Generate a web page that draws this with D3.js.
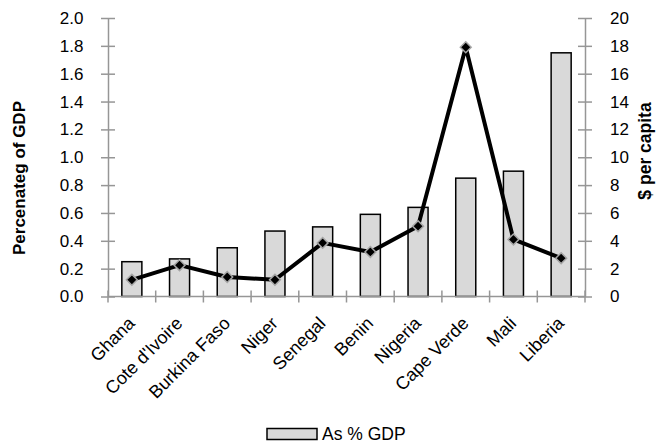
<!DOCTYPE html>
<html>
<head>
<meta charset="utf-8">
<script src="https://cdn.jsdelivr.net/npm/d3@7"></script>
<style>
  body { margin: 0; background: #fff; }
  svg text { font-family: "Liberation Sans", Arial, sans-serif; fill: #000; }
</style>
</head>
<body>
<div id="container"><svg></svg></div>
<script>
let width = 661;
let height = 445;

// data
let countries = ['Ghana', "Cote d'Ivoire", 'Burkina Faso', 'Niger', 'Senegal', 'Benin', 'Nigeria', 'Cape Verde', 'Mali', 'Liberia'];
let pctGDP = [0.25, 0.27, 0.35, 0.47, 0.50, 0.59, 0.64, 0.85, 0.90, 1.75];
let perCapita = [1.2, 2.25, 1.4, 1.2, 3.85, 3.2, 5.05, 17.9, 4.1, 2.75];
let leftTicks = [0, 0.2, 0.4, 0.6, 0.8, 1.0, 1.2, 1.4, 1.6, 1.8, 2.0];
let rightTicks = [0, 2, 4, 6, 8, 10, 12, 14, 16, 18, 20];

let margin = {left: 108, right: 76, top: 18, bottom: 148.5};

let svg = d3.select('#container').select('svg')
    .attr('width', width)
    .attr('height', height);

let x = d3.scaleBand()
    .domain(countries)
    .range([margin.left, width - margin.right])
    .padding(0);
let yL = d3.scaleLinear().domain([0, 2]).range([height - margin.bottom, margin.top]);
let yR = d3.scaleLinear().domain([0, 20]).range([height - margin.bottom, margin.top]);

let axisColor = '#969696';
let barW = x.bandwidth() * 0.42;

// bars
svg.append('g')
    .selectAll('rect')
    .data(countries)
    .join('rect')
    .attr('x', d => x(d) + x.bandwidth() / 2 - barW / 2)
    .attr('y', (d, i) => yL(pctGDP[i]))
    .attr('width', barW)
    .attr('height', (d, i) => yL(0) - yL(pctGDP[i]))
    .attr('fill', '#d9d9d9')
    .attr('stroke', '#000')
    .attr('stroke-width', 1.5);

// axes
function styleAxis(g) {
    g.select('.domain').attr('stroke', axisColor).attr('stroke-width', 1.5);
    g.selectAll('.tick line').attr('stroke', axisColor).attr('stroke-width', 1.5);
    g.selectAll('.tick text').style('font-size', '17px');
}

let gL = svg.append('g')
    .attr('transform', `translate(${margin.left},0)`)
    .call(d3.axisLeft(yL).tickValues(leftTicks).tickFormat(d3.format('.1f')).tickSize(7).tickSizeOuter(0));
styleAxis(gL);
gL.selectAll('.tick line').attr('x2', -7).attr('x1', 7);
gL.selectAll('.tick text').attr('x', -24.5);

let gR = svg.append('g')
    .attr('transform', `translate(${width - margin.right},0)`)
    .call(d3.axisRight(yR).tickValues(rightTicks).tickSize(7).tickSizeOuter(0));
styleAxis(gR);
gR.selectAll('.tick line').attr('x1', -7).attr('x2', 7);
gR.selectAll('.tick text').attr('x', 25);

// x axis: ticks between categories
let boundaries = countries.map(d => x(d)).concat([x(countries[countries.length - 1]) + x.bandwidth()]);
let gX = svg.append('g');
gX.append('line')
    .attr('x1', margin.left).attr('x2', width - margin.right)
    .attr('y1', yL(0)).attr('y2', yL(0))
    .attr('stroke', axisColor).attr('stroke-width', 1.5);
gX.selectAll('line.tk')
    .data(boundaries)
    .join('line')
    .attr('class', 'tk')
    .attr('x1', d => d).attr('x2', d => d)
    .attr('y1', yL(0) - 6).attr('y2', yL(0) + 6)
    .attr('stroke', axisColor).attr('stroke-width', 1.5);
gX.selectAll('text')
    .data(countries)
    .join('text')
    .attr('transform', d => `translate(${x(d) + x.bandwidth() / 2 + 4},${yL(0) + 28}) rotate(-45)`)
    .attr('text-anchor', 'end')
    .style('font-size', '18px')
    .text(d => d);

// line series
let line = d3.line()
    .x(d => x(d) + x.bandwidth() / 2)
    .y((d, i) => yR(perCapita[i]));
svg.append('path')
    .datum(countries)
    .attr('d', line)
    .attr('fill', 'none')
    .attr('stroke', '#000')
    .attr('stroke-width', 4)
    .attr('stroke-linejoin', 'round');

svg.append('g')
    .selectAll('path')
    .data(countries)
    .join('path')
    .attr('d', d3.symbol(d3.symbolDiamond2, 75))
    .attr('transform', (d, i) => `translate(${x(d) + x.bandwidth() / 2},${yR(perCapita[i])})`)
    .attr('fill', '#000')
    .attr('stroke', '#a6a6a6')
    .attr('stroke-width', 1.5);

// axis titles
svg.append('text')
    .attr('transform', 'translate(25,178) rotate(-90)')
    .attr('text-anchor', 'middle')
    .style('font-size', '17px')
    .style('font-weight', 'bold')
    .text('Percenateg of GDP');
svg.append('text')
    .attr('transform', 'translate(651,151) rotate(-90)')
    .attr('text-anchor', 'middle')
    .style('font-size', '17.5px')
    .style('font-weight', 'bold')
    .text('$ per capita');

// legend
let lg = svg.append('g').attr('transform', 'translate(267,428.5)');
lg.append('rect')
    .attr('width', 50).attr('height', 11)
    .attr('fill', '#d9d9d9').attr('stroke', '#000').attr('stroke-width', 1.5);
lg.append('text')
    .attr('x', 55).attr('y', 11)
    .style('font-size', '17.5px')
    .text('As % GDP');
</script>
</body>
</html>
